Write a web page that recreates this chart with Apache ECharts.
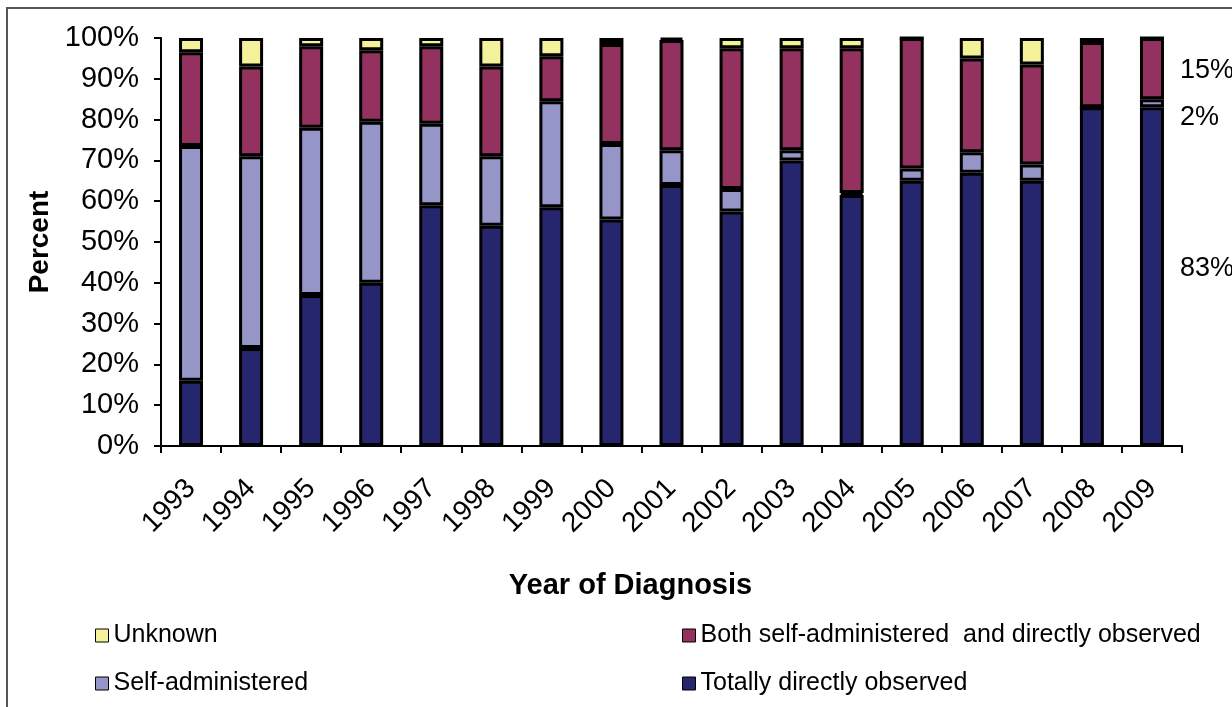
<!DOCTYPE html>
<html>
<head>
<meta charset="utf-8">
<script src="https://cdn.jsdelivr.net/npm/echarts@6/dist/echarts.min.js"></script>
<style>
  html, body { margin: 0; padding: 0; background: #fff; overflow: hidden; }
  #frame { position: absolute; left: 6px; top: 7px; width: 1300px; height: 800px; border: 2px solid #555; box-sizing: border-box; }
  #chart { position: absolute; left: 0; top: 0; width: 1232px; height: 707px; }
</style>
</head>
<body>
<div id="frame"></div>
<div id="chart"></div>
<script>
const years = ['1993', '1994', '1995', '1996', '1997', '1998', '1999', '2000', '2001',
  '2002', '2003', '2004', '2005', '2006', '2007', '2008', '2009'];

// percent of cases by DOT status
const totallyObserved = [16, 24, 37, 40, 59, 54, 58.5, 55.5, 64, 57.5, 70, 61.5, 65, 67, 65, 83, 83];
const selfAdmin = [57.5, 47, 41, 39.5, 20, 17, 26, 18.5, 8.5, 5.5, 2.5, 0.5, 3, 5, 4, 0, 2];
const bothTypes = [23, 22, 20, 17.5, 19, 22, 11, 24.5, 27, 34.5, 25, 35.5, 32, 23, 24.5, 16, 15];
const unknown = [3.5, 7, 2, 3, 2, 7, 4.5, 1.5, 0.5, 2.5, 2.5, 2.5, 0, 5, 6.5, 1, 0];

const yTicks = ['0%', '10%', '20%', '30%', '40%', '50%', '60%', '70%', '80%', '90%', '100%'];

const FONT = 'Liberation Sans, Arial, sans-serif';
const lastIdx = years.length - 1;

// only the 2009 bar carries value labels, drawn to its right
const withEndLabel = (values, offsetY) => values.map((v, i) => i === lastIdx
  ? { value: v, label: { show: true, position: 'right', distance: 16, offset: [0, offsetY],
      formatter: v + '%', color: '#000', fontSize: 27, fontFamily: FONT } }
  : v);

const bar = (name, color, data) => ({
  name,
  type: 'bar',
  stack: 'total',
  barWidth: 24,
  itemStyle: { color, borderColor: '#000', borderWidth: 3 },
  data
});

const legendStyle = {
  orient: 'vertical', top: 618, itemGap: 23,
  icon: 'rect', itemWidth: 13, itemHeight: 13,
  textStyle: { fontSize: 25, color: '#000', fontFamily: FONT },
  itemStyle: { borderColor: '#000', borderWidth: 1 }
};

const chart = echarts.init(document.getElementById('chart'));

chart.setOption({
  animation: false,
  textStyle: { fontFamily: FONT },
  grid: { left: 161, right: 50, top: 38, bottom: 261 },
  legend: [
    Object.assign({ left: 90, data: ['Unknown', 'Self-administered'] }, legendStyle),
    Object.assign({ left: 677, data: ['Both self-administered  and directly observed', 'Totally directly observed'] }, legendStyle)
  ],
  xAxis: {
    type: 'category',
    data: years,
    name: 'Year of Diagnosis',
    nameLocation: 'middle',
    nameGap: 125,
    nameTextStyle: { fontSize: 29, fontWeight: 'bold', color: '#000', padding: [0, 82, 0, 0] },
    axisLine: { lineStyle: { color: '#000', width: 2 } },
    axisTick: { show: true, length: 7, lineStyle: { color: '#000', width: 2 } },
    axisLabel: { rotate: 45, fontSize: 28, color: '#000', margin: 38 }
  },
  yAxis: {
    type: 'value',
    min: 0,
    max: 100,
    interval: 10,
    name: 'Percent',
    nameLocation: 'middle',
    nameGap: 106,
    nameTextStyle: { fontSize: 28, fontWeight: 'bold', color: '#000' },
    axisLine: { show: true, lineStyle: { color: '#000', width: 2 } },
    axisTick: { show: true, length: 7, lineStyle: { color: '#000', width: 2 } },
    splitLine: { show: false },
    axisLabel: {
      fontSize: 29, color: '#000', margin: 22,
      formatter: v => yTicks[Math.round(v / 10)]
    }
  },
  series: [
    bar('Totally directly observed', '#26266E', withEndLabel(totallyObserved, -8)),
    bar('Self-administered', '#9595C8', withEndLabel(selfAdmin, 14)),
    bar('Both self-administered  and directly observed', '#93315F', withEndLabel(bothTypes, 2)),
    bar('Unknown', '#F3F29A', unknown)
  ]
});
</script>
</body>
</html>
